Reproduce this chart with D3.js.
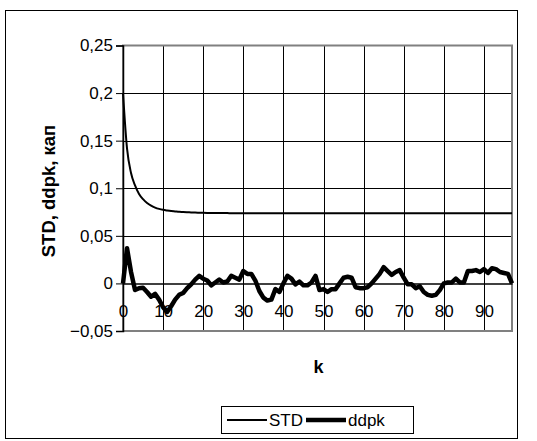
<!DOCTYPE html>
<html>
<head>
<meta charset="utf-8">
<script src="https://cdn.jsdelivr.net/npm/d3@7"></script>
<style>
	body { margin: 0; background: #fff; }
	text { font-family: "Liberation Sans", Arial, sans-serif; fill: #000; }
</style>
</head>
<body>
<div id="chart"></div>
<script>
'use strict';

// Size of the whole picture
var width = 537;
var height = 441;

// Step index k, one point per step
var k_values = d3.range(0, 98);

// STD curve
var std_values = [
	0.2, 0.142, 0.116, 0.103, 0.094, 0.0885, 0.0845, 0.0817, 0.0797, 0.0783,
	0.0773, 0.0766, 0.076, 0.0756, 0.0752, 0.075, 0.0748, 0.0746, 0.0744, 0.0743,
	0.0742, 0.0741, 0.074, 0.074, 0.0739, 0.0739, 0.0739, 0.0738, 0.0738, 0.0738,
	0.0738, 0.0738, 0.0738, 0.0738, 0.0738, 0.0738, 0.0738, 0.0738, 0.0738, 0.0738,
	0.0738, 0.0738, 0.0738, 0.0738, 0.0738, 0.0738, 0.0738, 0.0738, 0.0738, 0.0738,
	0.0738, 0.0738, 0.0738, 0.0738, 0.0738, 0.0738, 0.0738, 0.0738, 0.0738, 0.0738,
	0.0738, 0.0738, 0.0738, 0.0738, 0.0738, 0.0738, 0.0738, 0.0738, 0.0738, 0.0738,
	0.0738, 0.0738, 0.0738, 0.0738, 0.0738, 0.0738, 0.0738, 0.0738, 0.0738, 0.0738,
	0.0738, 0.0738, 0.0738, 0.0738, 0.0738, 0.0738, 0.0738, 0.0738, 0.0738, 0.0738,
	0.0738, 0.0738, 0.0738, 0.0738, 0.0738, 0.0738, 0.0738, 0.0738
];

// ddpk curve
var ddpk_values = [
	0, 0.037, 0.012, -0.007, -0.005, -0.0045, -0.009, -0.014, -0.011, -0.017,
	-0.025, -0.030, -0.024, -0.017, -0.012, -0.010, -0.005, -0.001, 0.004, 0.008,
	0.005, 0.003, -0.002, 0.001, 0.004, 0.001, 0.002, 0.008, 0.006, 0.004,
	0.013, 0.010, 0.010, 0.003, -0.008, -0.015, -0.018, -0.017, -0.006, -0.009,
	0.000, 0.008, 0.005, -0.001, 0.002, -0.002, -0.002, 0.001, 0.008, -0.007,
	-0.006, -0.009, -0.006, -0.006, 0.000, 0.006, 0.007, 0.006, -0.004, -0.005,
	-0.005, -0.004, 0.000, 0.005, 0.010, 0.017, 0.013, 0.009, 0.012, 0.014,
	0.006, -0.001, -0.001, -0.005, -0.003, -0.009, -0.012, -0.013, -0.012, -0.007,
	0.000, 0.001, 0.001, 0.005, 0.001, 0.001, 0.013, 0.013, 0.014, 0.012,
	0.015, 0.011, 0.016, 0.015, 0.012, 0.011, 0.010, 0.000
];

var x_ticks = [0, 10, 20, 30, 40, 50, 60, 70, 80, 90];
var y_ticks = [-0.05, 0, 0.05, 0.1, 0.15, 0.2, 0.25];

var series_names = ["STD", "ddpk"];

// Plot area inside the frame
var plot = { left: 123, right: 512, top: 45.5, bottom: 331 };

var x_scale = d3.scaleLinear().domain([0, 97]).range([plot.left, plot.right]);
var y_scale = d3.scaleLinear().domain([-0.05, 0.25]).range([plot.bottom, plot.top]);

var svg = d3.select("#chart").append("svg")
	.attr("width", width)
	.attr("height", height);

// outer frame of the chart
svg.append("rect")
	.attr("x", 5.5)
	.attr("y", 10.5)
	.attr("width", 512)
	.attr("height", 428)
	.style("fill", "none")
	.style("stroke", "#000")
	.style("stroke-width", 1);

// grid lines
var grid_g = svg.append("g");

x_ticks.filter(function(d) { return d > 0; }).forEach(function(d) {
	grid_g.append("line")
		.attr("x1", Math.round(x_scale(d)) + 0.5)
		.attr("x2", Math.round(x_scale(d)) + 0.5)
		.attr("y1", plot.top)
		.attr("y2", plot.bottom)
		.style("stroke", "#000")
		.style("stroke-width", 1);
});

y_ticks.filter(function(d) { return d > 0 && d < 0.25; }).forEach(function(d) {
	grid_g.append("line")
		.attr("x1", plot.left)
		.attr("x2", plot.right)
		.attr("y1", Math.round(y_scale(d)) + 0.5)
		.attr("y2", Math.round(y_scale(d)) + 0.5)
		.style("stroke", "#000")
		.style("stroke-width", 1);
});

// plot area border (gray)
svg.append("rect")
	.attr("x", plot.left)
	.attr("y", plot.top)
	.attr("width", plot.right - plot.left)
	.attr("height", plot.bottom - plot.top)
	.style("fill", "none")
	.style("stroke", "#808080")
	.style("stroke-width", 2);

// y axis with outside ticks
var y_axis = d3.axisLeft(y_scale)
	.tickValues(y_ticks)
	.tickSize(7)
	.tickPadding(3)
	.tickFormat(function(d) { return d3.format(".2~f")(d).replace(".", ","); });

var y_g = svg.append("g")
	.attr("transform", "translate(" + plot.left + ",0)")
	.call(y_axis);
y_g.select(".domain").style("stroke", "#000").style("stroke-width", 1.5);
y_g.selectAll(".tick line").style("stroke", "#000");
y_g.selectAll("text")
	.style("font-family", "'Liberation Sans', Arial, sans-serif")
	.style("font-size", "17px");

// x axis crosses at zero; labels sit below it
var x_axis = d3.axisBottom(x_scale)
	.tickValues(x_ticks)
	.tickSize(0)
	.tickPadding(22)
	.tickFormat(d3.format("d"));

var x_g = svg.append("g")
	.attr("transform", "translate(0," + y_scale(0) + ")")
	.call(x_axis);
x_g.select(".domain").style("stroke", "#000").style("stroke-width", 1.5);
x_g.selectAll("text")
	.style("font-family", "'Liberation Sans', Arial, sans-serif")
	.style("font-size", "17px");

// axis titles
svg.append("text")
	.attr("transform", "translate(55,191) rotate(-90)")
	.attr("text-anchor", "middle")
	.style("font-size", "18.5px")
	.style("font-weight", "bold")
	.text("STD, ddpk, кап");

svg.append("text")
	.attr("x", (plot.left + plot.right) / 2 + 1)
	.attr("y", 373)
	.attr("text-anchor", "middle")
	.style("font-size", "18px")
	.style("font-weight", "bold")
	.text("k");

// data lines
var ddpk_line = d3.line()
	.x(function(d, i) { return x_scale(k_values[i]); })
	.y(function(d) { return y_scale(d); });

svg.append("path")
	.datum(std_values)
	.attr("d", d3.line()
		.curve(d3.curveMonotoneX)
		.x(function(d, i) { return x_scale(k_values[i]); })
		.y(function(d) { return y_scale(d); }))
	.style("fill", "none")
	.style("stroke", "#000")
	.style("stroke-width", 2);

svg.append("path")
	.datum(ddpk_values)
	.attr("d", ddpk_line)
	.style("fill", "none")
	.style("stroke", "#000")
	.style("stroke-width", 4.5)
	.style("stroke-linejoin", "round");

// legend
var legend = svg.append("g");
legend.append("rect")
	.attr("x", 221.5)
	.attr("y", 406.5)
	.attr("width", 192)
	.attr("height", 27)
	.style("fill", "#fff")
	.style("stroke", "#000")
	.style("stroke-width", 1);

var legend_items = [
	{ name: series_names[0], x: 227, w: 2 },
	{ name: series_names[1], x: 306, w: 4.5 }
];

legend_items.forEach(function(d) {
	legend.append("line")
		.attr("x1", d.x)
		.attr("x2", d.x + 40)
		.attr("y1", 420)
		.attr("y2", 420)
		.style("stroke", "#000")
		.style("stroke-width", d.w);
	legend.append("text")
		.attr("x", d.x + 42)
		.attr("y", 426)
		.style("font-size", "17px")
		.text(d.name);
});
</script>
</body>
</html>
